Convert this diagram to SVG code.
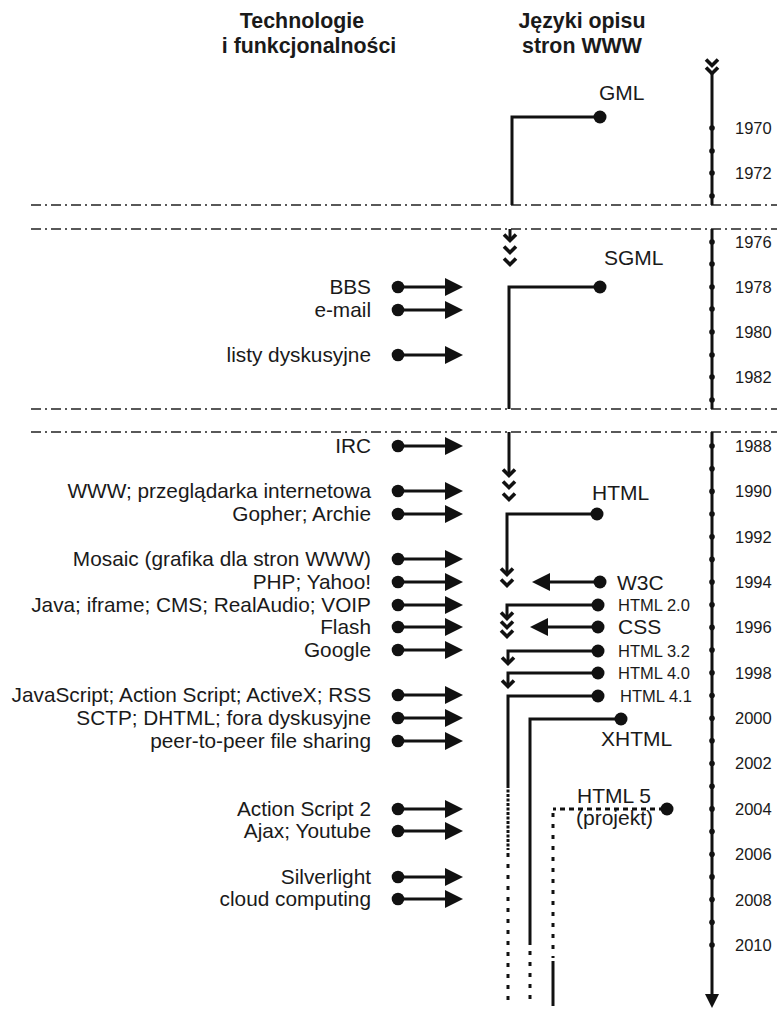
<svg xmlns="http://www.w3.org/2000/svg" xmlns:xlink="http://www.w3.org/1999/xlink" width="777" height="1011" viewBox="0 0 777 1011">
<style>
text{font-family:"Liberation Sans",Arial,sans-serif;fill:#1a1a1a}
.hdr{font-weight:bold;font-size:22.5px;text-anchor:middle}
.lbl{font-size:20.8px;text-anchor:end}
.yr{font-size:16.5px}
.big{font-size:21px}
.sm{font-size:16.5px}
.ln{fill:none;stroke:#111;stroke-width:3}
.brk{fill:none;stroke:#222;stroke-width:1.6;stroke-dasharray:10 4 2 4}
.dot{fill:#111}
.tick{fill:#111}
.chev{fill:none;stroke:#111;stroke-width:3.6;stroke-linejoin:miter}
.dense{fill:none;stroke:#111;stroke-width:3;stroke-dasharray:3 1.5}
.sparse{fill:none;stroke:#111;stroke-width:3;stroke-dasharray:4 7}
.hdash{fill:none;stroke:#111;stroke-width:3;stroke-dasharray:5 4}
</style>
<defs>
<path id="chev" class="chev" d="M-6,-6.5 L0,-0.5 L6,-6.5"/>
<path id="triR" fill="#111" d="M0,0 L-18,-9 L-18,9 Z"/>
<path id="triL" fill="#111" d="M0,0 L18,-9 L18,9 Z"/>
<g id="larrow"><circle cx="398" cy="0" r="6.3" fill="#111"/><path d="M398,0 H447" stroke="#111" stroke-width="3"/><use href="#triR" x="463" y="0"/></g>
</defs>
<rect width="777" height="1011" fill="#fff"/>

<!-- headers -->
<g id="header-left" transform="scale(0.95,1)"><text class="hdr" x="317.9" y="28">Technologie</text><text class="hdr" x="325.3" y="53">i funkcjonalności</text></g>
<g id="header-mid" transform="scale(0.95,1)"><text class="hdr" x="612.6" y="28">Języki opisu</text><text class="hdr" x="612.6" y="53">stron WWW</text></g>

<!-- break lines -->
<g id="breaks">
<path class="brk" d="M31,205 H777"/>
<path class="brk" d="M31,229 H777"/>
<path class="brk" d="M31,409 H777"/>
<path class="brk" d="M31,432 H777"/>
</g>

<!-- timeline -->
<g id="timeline">
<use href="#chev" x="712" y="66"/>
<use href="#chev" x="712" y="74"/>
<path class="ln" d="M712,73 V205"/>
<path class="ln" d="M712,229 V409"/>
<path class="ln" d="M712,432 V996"/>
<path fill="#111" d="M712,1008 L705,994 L719,994 Z"/>
<g class="tick">
<circle cx="712" cy="128" r="2.8"/><circle cx="712" cy="151" r="2.8"/><circle cx="712" cy="173" r="2.8"/><circle cx="712" cy="196" r="2.8"/>
<circle cx="712" cy="242" r="2.8"/><circle cx="712" cy="264" r="2.8"/><circle cx="712" cy="287" r="2.8"/><circle cx="712" cy="309" r="2.8"/><circle cx="712" cy="332" r="2.8"/><circle cx="712" cy="355" r="2.8"/><circle cx="712" cy="377" r="2.8"/><circle cx="712" cy="400" r="2.8"/>
<circle cx="712" cy="446" r="2.8"/><circle cx="712" cy="468.7" r="2.8"/><circle cx="712" cy="491.4" r="2.8"/><circle cx="712" cy="514" r="2.8"/><circle cx="712" cy="536.7" r="2.8"/><circle cx="712" cy="559.4" r="2.8"/><circle cx="712" cy="582.1" r="2.8"/><circle cx="712" cy="604.8" r="2.8"/><circle cx="712" cy="627.4" r="2.8"/><circle cx="712" cy="650.1" r="2.8"/><circle cx="712" cy="672.8" r="2.8"/><circle cx="712" cy="695.5" r="2.8"/><circle cx="712" cy="718.2" r="2.8"/><circle cx="712" cy="740.8" r="2.8"/><circle cx="712" cy="763.5" r="2.8"/><circle cx="712" cy="786.2" r="2.8"/><circle cx="712" cy="808.9" r="2.8"/><circle cx="712" cy="831.6" r="2.8"/><circle cx="712" cy="854.2" r="2.8"/><circle cx="712" cy="876.9" r="2.8"/><circle cx="712" cy="899.6" r="2.8"/><circle cx="712" cy="922.3" r="2.8"/><circle cx="712" cy="945" r="2.8"/>
</g>
<g>
<text class="yr" x="735" y="134">1970</text><text class="yr" x="735" y="179">1972</text>
<text class="yr" x="735" y="248">1976</text><text class="yr" x="735" y="293">1978</text><text class="yr" x="735" y="338">1980</text><text class="yr" x="735" y="383">1982</text>
<text class="yr" x="735" y="452">1988</text><text class="yr" x="735" y="497">1990</text><text class="yr" x="735" y="543">1992</text><text class="yr" x="735" y="588">1994</text><text class="yr" x="735" y="633">1996</text><text class="yr" x="735" y="679">1998</text><text class="yr" x="735" y="724">2000</text><text class="yr" x="735" y="769">2002</text><text class="yr" x="735" y="815">2004</text><text class="yr" x="735" y="860">2006</text><text class="yr" x="735" y="906">2008</text><text class="yr" x="735" y="951">2010</text>
</g>
</g>

<!-- connectors -->
<g id="connectors">
<!-- GML -->
<path class="ln" d="M600,117 H512 V205"/>
<path class="ln" d="M510,229 V238"/>
<use href="#chev" x="510" y="241"/><use href="#chev" x="510" y="253"/><use href="#chev" x="510" y="265"/>
<!-- SGML -->
<path class="ln" d="M600,287 H509 V409"/>
<path class="ln" d="M509,432 V473"/>
<use href="#chev" x="509" y="476"/><use href="#chev" x="509" y="488"/><use href="#chev" x="509" y="500"/>
<!-- HTML -->
<path class="ln" d="M597,514 H507 V572"/>
<use href="#chev" x="507" y="575"/><use href="#chev" x="507" y="586"/>
<!-- W3C -->
<path class="ln" d="M600,582 H548"/><use href="#triL" x="532" y="582"/>
<!-- HTML 2.0 -->
<path class="ln" d="M598,605 H507 V616"/>
<use href="#chev" x="507" y="619"/><use href="#chev" x="507" y="628"/><use href="#chev" x="507" y="637"/>
<!-- CSS -->
<path class="ln" d="M598,627 H548"/><use href="#triL" x="530" y="627"/>
<!-- HTML 3.2 -->
<path class="ln" d="M598,651 H508 V661"/><use href="#chev" x="508" y="664"/>
<!-- HTML 4.0 -->
<path class="ln" d="M598,673 H508 V684"/><use href="#chev" x="508" y="687"/>
<!-- HTML 4.1 -->
<path class="ln" d="M598,696 H508 V785"/>
<path class="dense" d="M508,785 V850"/>
<path class="sparse" d="M508,853 V1006"/>
<!-- XHTML -->
<path class="ln" d="M621,719 H530 V945"/>
<path class="sparse" d="M530,951 V1006"/>
<!-- HTML 5 -->
<path class="hdash" d="M664,809 H553"/>
<path class="sparse" d="M553,813 V958"/>
<path class="ln" d="M553,961 V1006"/>
<!-- left arrows -->
<use href="#larrow" y="287"/><use href="#larrow" y="310"/><use href="#larrow" y="355"/>
<use href="#larrow" y="446"/><use href="#larrow" y="491"/><use href="#larrow" y="514"/>
<use href="#larrow" y="559"/><use href="#larrow" y="582"/><use href="#larrow" y="605"/><use href="#larrow" y="627"/><use href="#larrow" y="650"/>
<use href="#larrow" y="695"/><use href="#larrow" y="718"/><use href="#larrow" y="741"/>
<use href="#larrow" y="809"/><use href="#larrow" y="831"/>
<use href="#larrow" y="877"/><use href="#larrow" y="899"/>
</g>

<!-- language nodes -->
<g id="n-gml"><circle class="dot" cx="600" cy="117" r="6.5"/><text class="big" x="599" y="100">GML</text></g>
<g id="n-sgml"><circle class="dot" cx="600" cy="287" r="6.5"/><text class="big" x="604" y="265">SGML</text></g>
<g id="n-html"><circle class="dot" cx="597" cy="514" r="6.5"/><text class="big" x="592" y="500">HTML</text></g>
<g id="n-w3c"><circle class="dot" cx="600" cy="582" r="6.5"/><text class="big" x="617" y="590">W3C</text></g>
<g id="n-html20"><circle class="dot" cx="598" cy="605" r="6.5"/><text class="sm" x="618" y="611">HTML 2.0</text></g>
<g id="n-css"><circle class="dot" cx="598" cy="627" r="6.5"/><text class="big" x="618" y="634">CSS</text></g>
<g id="n-html32"><circle class="dot" cx="598" cy="651" r="6.5"/><text class="sm" x="618" y="657">HTML 3.2</text></g>
<g id="n-html40"><circle class="dot" cx="598" cy="673" r="6.5"/><text class="sm" x="618" y="679">HTML 4.0</text></g>
<g id="n-html41"><circle class="dot" cx="598" cy="696" r="6.5"/><text class="sm" x="620" y="702">HTML 4.1</text></g>
<g id="n-xhtml"><circle class="dot" cx="621" cy="719" r="6.5"/><text class="big" x="601" y="746">XHTML</text></g>
<g id="n-html5"><circle class="dot" cx="667" cy="809" r="6.5"/><text class="big" x="577" y="803">HTML 5</text><text class="big" x="576" y="825">(projekt)</text></g>

<!-- technology nodes -->
<g id="t-bbs"><text class="lbl" x="371" y="294">BBS</text></g>
<g id="t-email"><text class="lbl" x="371" y="317">e-mail</text></g>
<g id="t-listy"><text class="lbl" x="371" y="362">listy dyskusyjne</text></g>
<g id="t-irc"><text class="lbl" x="371" y="453">IRC</text></g>
<g id="t-www"><text class="lbl" x="371" y="498">WWW; przeglądarka internetowa</text></g>
<g id="t-gopher"><text class="lbl" x="371" y="521">Gopher; Archie</text></g>
<g id="t-mosaic"><text class="lbl" x="371" y="566">Mosaic (grafika dla stron WWW)</text></g>
<g id="t-php"><text class="lbl" x="371" y="589">PHP; Yahoo!</text></g>
<g id="t-java"><text class="lbl" x="371" y="612">Java; iframe; CMS; RealAudio; VOIP</text></g>
<g id="t-flash"><text class="lbl" x="371" y="634">Flash</text></g>
<g id="t-google"><text class="lbl" x="371" y="657">Google</text></g>
<g id="t-js"><text class="lbl" x="371" y="702">JavaScript; Action Script; ActiveX; RSS</text></g>
<g id="t-sctp"><text class="lbl" x="371" y="725">SCTP; DHTML; fora dyskusyjne</text></g>
<g id="t-p2p"><text class="lbl" x="371" y="748">peer-to-peer file sharing</text></g>
<g id="t-as2"><text class="lbl" x="371" y="816">Action Script 2</text></g>
<g id="t-ajax"><text class="lbl" x="371" y="838">Ajax; Youtube</text></g>
<g id="t-silver"><text class="lbl" x="371" y="884">Silverlight</text></g>
<g id="t-cloud"><text class="lbl" x="371" y="906">cloud computing</text></g>
</svg>
